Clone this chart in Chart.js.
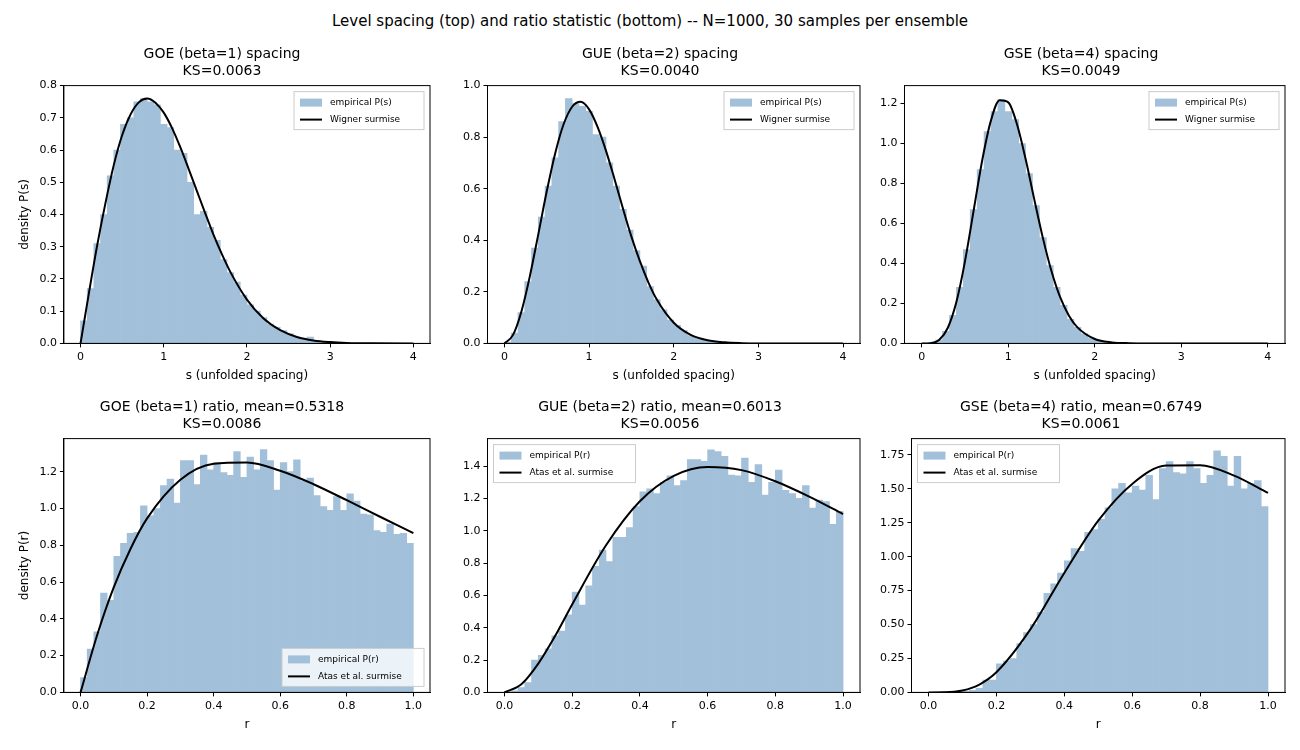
<!DOCTYPE html>
<html><head><meta charset="utf-8">
<script src="https://cdn.jsdelivr.net/npm/chart.js@4.4.0/dist/chart.umd.min.js"></script>
<style>
body{margin:0;width:1300px;height:750px;background:#fff;font-family:"DejaVu Sans";position:relative;overflow:hidden}
#sup{position:absolute;top:12px;width:1300px;text-align:center;font-size:15px}
.c{position:absolute}
</style></head><body>
<div id="sup">Level spacing (top) and ratio statistic (bottom) -- N=1000, 30 samples per ensemble</div>
<div class="c" style="left:14px;top:42px;width:426px;height:345px"><canvas id="c0"></canvas></div>
<div class="c" style="left:460px;top:42px;width:410px;height:345px"><canvas id="c1"></canvas></div>
<div class="c" style="left:877px;top:42px;width:418px;height:345px"><canvas id="c2"></canvas></div>
<div class="c" style="left:14px;top:395px;width:426px;height:341px"><canvas id="c3"></canvas></div>
<div class="c" style="left:460px;top:395px;width:410px;height:341px"><canvas id="c4"></canvas></div>
<div class="c" style="left:877px;top:395px;width:418px;height:341px"><canvas id="c5"></canvas></div>
<script>
// spacing histograms, bin width 0.08, centers 0.04 + 0.08k
const sBins = [0.04,0.12,0.20,0.28,0.36,0.44,0.52,0.60,0.68,0.76,0.84,0.92,1.00,1.08,1.16,1.24,1.32,1.40,1.48,1.56,1.64,1.72,1.80,1.88,1.96,2.04,2.12,2.20,2.28,2.36,2.44,2.52,2.60,2.68,2.76,2.84,2.92,3.00];
const goeS = [0.07,0.17,0.31,0.40,0.52,0.60,0.68,0.70,0.75,0.76,0.75,0.74,0.68,0.67,0.60,0.59,0.50,0.40,0.41,0.36,0.32,0.26,0.22,0.19,0.15,0.12,0.10,0.08,0.06,0.05,0.04,0.03,0.02,0.015,0.02,0.008,0.005,0.004];
const gueS = [0.005,0.04,0.12,0.24,0.37,0.49,0.61,0.72,0.86,0.95,0.93,0.92,0.90,0.81,0.80,0.70,0.61,0.52,0.44,0.36,0.30,0.22,0.17,0.13,0.09,0.07,0.05,0.03,0.02,0.015,0.01,0.006,0.004,0,0,0,0,0];
const gseS = [0,0.002,0.017,0.06,0.14,0.28,0.47,0.67,0.87,1.06,1.16,1.22,1.16,1.12,1.00,0.85,0.69,0.53,0.39,0.28,0.19,0.12,0.08,0.048,0.028,0.017,0.009,0.005,0,0,0,0,0,0,0,0,0,0];
// Wigner surmise
const sGrid = [0,0.1,0.2,0.3,0.4,0.5,0.6,0.7,0.8,0.9,1.0,1.1,1.2,1.3,1.4,1.5,1.6,1.7,1.8,2.0,2.2,2.4,2.6,2.8,3.0,3.2,3.5,4.0];
const goeW = [0,0.155,0.304,0.436,0.554,0.646,0.710,0.748,0.760,0.747,0.716,0.668,0.608,0.541,0.472,0.403,0.336,0.276,0.222,0.136,0.077,0.041,0.020,0.009,0.004,0.0015,0.0003,0];
const gueW = [0,0.032,0.123,0.260,0.423,0.590,0.738,0.851,0.918,0.937,0.908,0.840,0.747,0.638,0.523,0.414,0.319,0.237,0.170,0.080,0.033,0.012,0.004,0.001,0,0,0,0];
const gseW = [0,0.001,0.017,0.077,0.207,0.412,0.666,0.919,1.116,1.217,1.206,1.098,0.924,0.722,0.528,0.361,0.231,0.140,0.080,0.022,0.005,0.001,0,0,0,0,0,0];
// ratio histograms, bin width 0.02, centers 0.01 + 0.02k
const rBins = [0.01,0.03,0.05,0.07,0.09,0.11,0.13,0.15,0.17,0.19,0.21,0.23,0.25,0.27,0.29,0.31,0.33,0.35,0.37,0.39,0.41,0.43,0.45,0.47,0.49,0.51,0.53,0.55,0.57,0.59,0.61,0.63,0.65,0.67,0.69,0.71,0.73,0.75,0.77,0.79,0.81,0.83,0.85,0.87,0.89,0.91,0.93,0.95,0.97,0.99];
const goeR = [0.08,0.235,0.33,0.54,0.50,0.74,0.81,0.865,0.87,1.015,0.96,1.00,1.125,1.16,1.03,1.26,1.26,1.13,1.29,1.21,1.25,1.195,1.18,1.31,1.17,1.28,1.21,1.32,1.26,1.10,1.25,1.20,1.265,1.15,1.165,1.07,1.01,0.99,1.065,0.99,1.08,1.04,0.97,0.965,0.88,0.87,0.915,0.86,0.865,0.81];
const gueR = [0.005,0.01,0.03,0.06,0.20,0.23,0.27,0.35,0.38,0.48,0.62,0.54,0.66,0.78,0.88,0.81,0.96,0.96,1.02,1.15,1.24,1.26,1.23,1.30,1.34,1.28,1.31,1.44,1.44,1.43,1.50,1.49,1.46,1.345,1.34,1.45,1.30,1.41,1.22,1.30,1.375,1.25,1.23,1.20,1.28,1.14,1.19,1.18,1.04,1.12];
const gseR = [0,0,0.001,0.002,0.004,0.008,0.015,0.03,0.09,0.09,0.21,0.23,0.25,0.36,0.44,0.50,0.59,0.73,0.80,0.88,0.97,1.06,1.04,1.18,1.20,1.275,1.36,1.50,1.54,1.47,1.52,1.49,1.60,1.42,1.65,1.70,1.62,1.61,1.70,1.65,1.54,1.60,1.78,1.74,1.52,1.74,1.50,1.54,1.56,1.37];
// Atas et al. surmise
const rGrid = [0,0.05,0.1,0.15,0.2,0.3,0.4,0.5,0.6,0.7,0.8,0.9,1.0];
const goeA = [0,0.312,0.572,0.78,0.946,1.156,1.243,1.250,1.205,1.132,1.045,0.955,0.866];
const gueA = [0,0.05,0.178,0.35,0.544,0.910,1.182,1.339,1.394,1.375,1.306,1.211,1.103];
const gseA = [0,0.0005,0.014,0.058,0.148,0.464,0.880,1.265,1.536,1.671,1.674,1.597,1.470];

const BAR = '#a2c0d9';
const F = 'DejaVu Sans';
const frame = {id:'frame', afterDraw(c){const a=c.chartArea,x=c.ctx;x.save();x.strokeStyle='#000';x.lineWidth=1;x.strokeRect(a.left,a.top,a.right-a.left,a.bottom-a.top);
  const o=c.options.plugins.boxLegend; if(o){x.font='9px '+F;const w=o.w,h=38;let lx=o.pos==='tl'?a.left+6:a.right-w-6;let ly=o.pos==='br'?a.bottom-h-6:a.top+6;
   x.fillStyle='rgba(255,255,255,0.8)';x.strokeStyle='#ccc';x.fillRect(lx,ly,w,h);x.strokeRect(lx,ly,w,h);
   x.fillStyle=BAR;x.fillRect(lx+6,ly+7,22,8);x.strokeStyle='#000';x.lineWidth=2;x.beginPath();x.moveTo(lx+6,ly+28);x.lineTo(lx+28,ly+28);x.stroke();
   x.fillStyle='#000';x.textBaseline='middle';x.fillText(o.items[0],lx+36,ly+11);x.fillText(o.items[1],lx+36,ly+28);}
  x.restore();}};

function panel(id,title,bins,hist,grid,curve,xr,yr,ystep,ydec,xlab,ylab,leg){
  const axis={offset:false,grid:{display:true,offset:false,drawOnChartArea:false,drawTicks:true,tickLength:4,color:'#000'},border:{display:true,color:'#000'}};
  new Chart(document.getElementById(id),{type:'bar',
    data:{datasets:[
      {type:'line',data:grid.map((x,i)=>({x,y:curve[i]})),borderColor:'#000',borderWidth:2,pointRadius:0,cubicInterpolationMode:'monotone',order:0},
      {type:'bar',data:bins.map((x,i)=>({x,y:hist[i]})),backgroundColor:BAR,barPercentage:1,categoryPercentage:1,grouped:false,order:1}]},
    options:{animation:false,responsive:true,maintainAspectRatio:false,
      layout:{padding:{left:0,right:10,top:0,bottom:0}},
      plugins:{legend:{display:false},tooltip:{enabled:false},boxLegend:leg,
        title:{display:true,text:title,color:'#000',font:{family:F,size:14,weight:'normal'},padding:{top:4,bottom:6},lineHeight:1.1}},
      scales:{
        x:{type:'linear',min:xr[0],max:xr[1],...axis,ticks:{stepSize:xr[2],includeBounds:false,color:'#000',font:{family:F,size:11},callback:v=>xr[2]<1?v.toFixed(1):v},
          title:{display:true,text:xlab,color:'#000',font:{family:F,size:12},padding:{top:2}}},
        y:{min:0,max:yr,...axis,ticks:{stepSize:ystep,includeBounds:false,color:'#000',font:{family:F,size:11},callback:v=>v.toFixed(ydec)},
          title:{display:!!ylab,text:ylab,color:'#000',font:{family:F,size:12}}}}},
    plugins:[frame]});
}
const sLeg={items:['empirical P(s)','Wigner surmise'],w:130,pos:'tr'};
const rItems=['empirical P(r)','Atas et al. surmise'];
panel('c0',['GOE (beta=1) spacing','KS=0.0063'],sBins,goeS,sGrid,goeW,[-0.2,4.2,1],0.8,0.1,1,'s (unfolded spacing)','density P(s)',sLeg);
panel('c1',['GUE (beta=2) spacing','KS=0.0040'],sBins,gueS,sGrid,gueW,[-0.2,4.2,1],1.0,0.2,1,'s (unfolded spacing)','',sLeg);
panel('c2',['GSE (beta=4) spacing','KS=0.0049'],sBins,gseS,sGrid,gseW,[-0.2,4.2,1],1.29,0.2,1,'s (unfolded spacing)','',sLeg);
panel('c3',['GOE (beta=1) ratio, mean=0.5318','KS=0.0086'],rBins,goeR,rGrid,goeA,[-0.05,1.05,0.2],1.38,0.2,1,'r','density P(r)',{items:rItems,w:142,pos:'br'});
panel('c4',['GUE (beta=2) ratio, mean=0.6013','KS=0.0056'],rBins,gueR,rGrid,gueA,[-0.05,1.05,0.2],1.57,0.2,1,'r','',{items:rItems,w:142,pos:'tl'});
panel('c5',['GSE (beta=4) ratio, mean=0.6749','KS=0.0061'],rBins,gseR,rGrid,gseA,[-0.05,1.05,0.2],1.87,0.25,2,'r','',{items:rItems,w:142,pos:'tl'});
</script></body></html>
